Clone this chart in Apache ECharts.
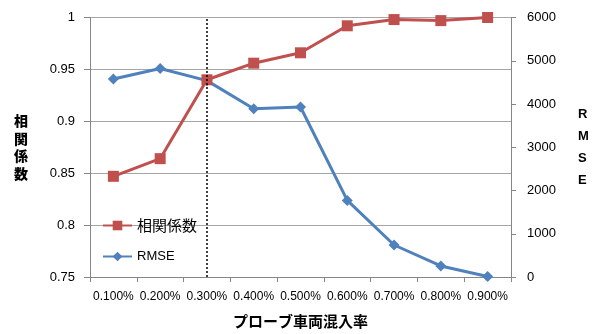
<!DOCTYPE html>
<html>
<head>
<meta charset="utf-8">
<script src="https://cdn.jsdelivr.net/npm/echarts@6/dist/echarts.min.js"></script>
<style>
  html, body { margin: 0; padding: 0; background: #fff; }
  #chart { width: 599px; height: 334px; }
</style>
</head>
<body>
<div id="chart"></div>
<script>
// Probe vehicle mix ratio categories
const categories = ['0.100%', '0.200%', '0.300%', '0.400%', '0.500%', '0.600%', '0.700%', '0.800%', '0.900%'];
// Correlation coefficient (left axis)
const correlation = [0.847, 0.864, 0.940, 0.956, 0.966, 0.992, 0.998, 0.997, 1.0];
// RMSE (right axis)
const rmse = [4580, 4820, 4540, 3890, 3930, 1770, 740, 255, 10];
// Vertical reference line position
const refCategory = '0.300%';

const font = 'Arial, "Liberation Sans", "Noto Sans CJK JP", sans-serif';
const cjkFont = '"Noto Sans CJK JP", sans-serif';
const chart = echarts.init(document.getElementById('chart'), null, { renderer: 'canvas' });

chart.setOption({
  animation: false,
  backgroundColor: '#fff',
  textStyle: { fontFamily: font },
  grid: { left: 90, right: 88, top: 17.5, bottom: 57, containLabel: false, outerBoundsMode: 'none' },
  legend: {
    orient: 'vertical',
    left: 97,
    top: 213,
    itemWidth: 29,
    itemHeight: 12,
    itemGap: 17,
    data: ['相関係数', 'RMSE'],
    formatter: name => (name === 'RMSE' ? name : '{cjk|' + name + '}'),
    textStyle: {
      fontSize: 13, color: '#000', fontFamily: font,
      rich: { cjk: { fontSize: 15, color: '#000', fontFamily: cjkFont } }
    }
  },
  xAxis: {
    type: 'category',
    data: categories,
    boundaryGap: true,
    name: 'プローブ車両混入率',
    nameLocation: 'middle',
    nameGap: 37,
    nameTextStyle: { fontSize: 15, fontWeight: 'bold', color: '#000', fontFamily: cjkFont },
    axisLine: { lineStyle: { color: '#868686', width: 1 } },
    axisTick: { show: true, length: 5, alignWithLabel: false, lineStyle: { color: '#868686' } },
    axisLabel: { fontSize: 12, color: '#000', margin: 14, interval: 0 }
  },
  yAxis: [
    {
      type: 'value',
      min: 0.75,
      max: 1,
      interval: 0.05,
      position: 'left',
      name: '相\n関\n係\n数',
      nameLocation: 'middle',
      nameRotate: 0,
      nameGap: 62,
      nameTextStyle: { fontSize: 14, fontWeight: 900, color: '#000', lineHeight: 17.5, fontFamily: cjkFont },
      axisLine: { show: true, lineStyle: { color: '#868686' } },
      axisTick: { show: true, length: 6, lineStyle: { color: '#868686' } },
      axisLabel: { fontSize: 13, color: '#000', margin: 15, formatter: v => String(+v.toFixed(2)) },
      splitLine: { show: true, lineStyle: { color: '#a6a6a6', width: 1 } }
    },
    {
      type: 'value',
      min: 0,
      max: 6000,
      interval: 1000,
      position: 'right',
      name: 'R\nM\nS\nE',
      nameLocation: 'middle',
      nameRotate: 0,
      nameGap: 67,
      nameTextStyle: { fontSize: 13, fontWeight: 'bold', color: '#000', lineHeight: 22 },
      axisLine: { show: true, lineStyle: { color: '#868686' } },
      axisTick: { show: true, length: 5, lineStyle: { color: '#868686' } },
      axisLabel: { fontSize: 13, color: '#000', margin: 16, formatter: v => String(v) },
      splitLine: { show: false }
    }
  ],
  series: [
    {
      name: 'RMSE',
      type: 'line',
      yAxisIndex: 1,
      data: rmse,
      symbol: 'diamond',
      symbolSize: 11,
      itemStyle: { color: '#4F81BD' },
      lineStyle: { color: '#4F81BD', width: 3 },
      markLine: {
        silent: true,
        symbol: 'none',
        label: { show: false },
        lineStyle: { color: '#000', type: [2, 2], width: 1.5 },
        data: [{ xAxis: refCategory }]
      }
    },
    {
      name: '相関係数',
      type: 'line',
      yAxisIndex: 0,
      data: correlation,
      symbol: 'rect',
      symbolSize: 11,
      itemStyle: { color: '#C0504D' },
      lineStyle: { color: '#C0504D', width: 3 }
    }
  ]
});
</script>
</body>
</html>
